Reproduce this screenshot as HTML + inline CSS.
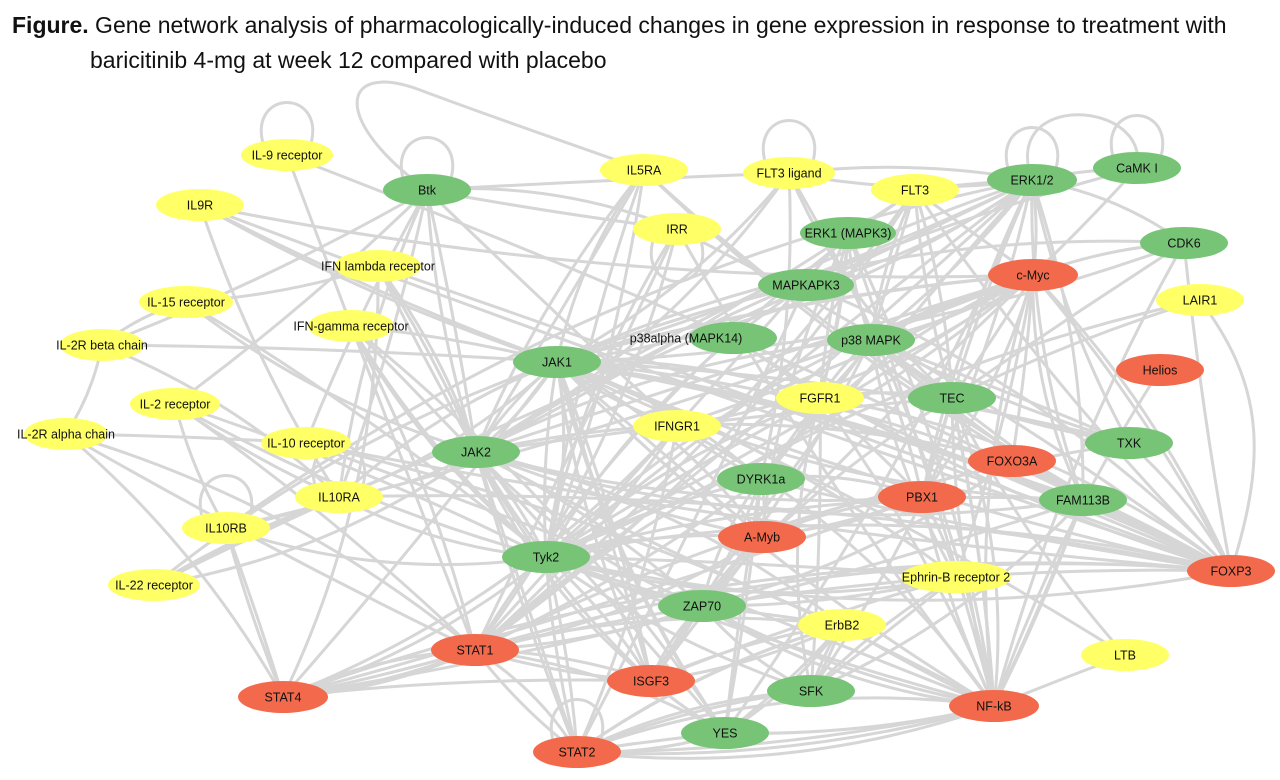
<!DOCTYPE html>
<html><head><meta charset="utf-8"><style>
body{margin:0;background:#fff;width:1280px;height:780px;overflow:hidden;font-family:"Liberation Sans",sans-serif}
.t{position:absolute;left:12px;top:8px;font-size:23px;color:#111;line-height:35px;white-space:nowrap}
svg{position:absolute;left:0;top:0}
</style></head><body>
<div class="t"><b>Figure.</b> Gene network analysis of pharmacologically-induced changes in gene expression in response to treatment with<br><span style="padding-left:78px">baricitinib 4-mg at week 12 compared with placebo</span></div>
<svg id="s" width="1280" height="780"><g id="e" stroke="#d6d6d6" stroke-width="3" fill="none"></g><g id="n"></g></svg>
<script>
var Y="#ffff66",G="#77c477",R="#f26a4b";
var N={
"IL-9 receptor":[287,155,Y,92],"IL9R":[200,205,Y,88],"Btk":[427,190,G,88],"IL5RA":[644,170,Y,88],
"FLT3 ligand":[789,173,Y,92],"FLT3":[915,190,Y,88],"ERK1/2":[1032,180,G,90],"CaMK I":[1137,168,G,88],
"IRR":[677,229,Y,88],"ERK1 (MAPK3)":[848,233,G,96],"CDK6":[1184,243,G,88],"IFN lambda receptor":[378,266,Y,86],
"c-Myc":[1033,275,R,90],"MAPKAPK3":[806,285,G,96],"IL-15 receptor":[186,302,Y,94],"LAIR1":[1200,300,Y,88],
"IFN-gamma receptor":[351,326,Y,86],"p38alpha (MAPK14)":[733,338,G,88],"p38 MAPK":[871,340,G,88],
"IL-2R beta chain":[102,345,Y,84],"JAK1":[557,362,G,88],"Helios":[1160,370,R,88],"IL-2 receptor":[175,404,Y,90],
"FGFR1":[820,398,Y,88],"TEC":[952,398,G,88],"IL-2R alpha chain":[66,434,Y,84],"IL-10 receptor":[306,443,Y,90],
"IFNGR1":[677,426,Y,88],"JAK2":[476,452,G,88],"TXK":[1129,443,G,88],"FOXO3A":[1012,461,R,88],"DYRK1a":[761,479,G,88],
"IL10RA":[339,497,Y,88],"PBX1":[922,497,R,88],"FAM113B":[1083,500,G,88],"IL10RB":[226,528,Y,88],"A-Myb":[762,537,R,88],
"Tyk2":[546,557,G,88],"FOXP3":[1231,571,R,88],"IL-22 receptor":[154,585,Y,92],"Ephrin-B receptor 2":[956,577,Y,110],
"ZAP70":[702,606,G,88],"ErbB2":[842,625,Y,88],"STAT1":[475,650,R,88],"LTB":[1125,655,Y,88],"ISGF3":[651,681,R,88],
"SFK":[811,691,G,88],"STAT4":[283,697,R,90],"NF-kB":[994,706,R,90],"YES":[725,733,G,88],"STAT2":[577,752,R,88]};
var hubs={"JAK1":28,"JAK2":24,"Tyk2":22,"STAT1":22,"FOXP3":24,"NF-kB":20,"c-Myc":22,"ERK1/2":20,"STAT4":10,"STAT2":10,"ZAP70":12,"A-Myb":10,"ISGF3":8,"TEC":10,"p38 MAPK":10,"FGFR1":10,"Btk":10,"YES":8,"SFK":8,"PBX1":8,"IL10RA":8,"DYRK1a":8};
var names=Object.keys(N),seed=7;function rnd(){seed=(seed*16807)%2147483647;return seed/2147483647}
var e=document.getElementById("e"),h="";
function ed(a,b){var A=N[a],B=N[b];var mx=(A[0]+B[0])/2,my=(A[1]+B[1])/2;var dx=B[0]-A[0],dy=B[1]-A[1];var k=(rnd()-0.5)*0.25;
h+='<path d="M'+A[0]+' '+A[1]+' Q'+(mx-dy*k)+' '+(my+dx*k)+' '+B[0]+' '+B[1]+'"/>';}
for(var hb in hubs){var c=hubs[hb];var others=names.filter(function(x){return x!=hb}).sort(function(a,b){var A=N[a],B=N[b],H=N[hb];return (Math.hypot(A[0]-H[0],A[1]-H[1])*(0.5+rnd()))-(Math.hypot(B[0]-H[0],B[1]-H[1])*(0.5+rnd()))});
for(var i=0;i<c;i++)ed(hb,others[Math.floor(rnd()*Math.min(others.length,c*2))]);}
[["IL-2R beta chain","IL-2R alpha chain"],["IL-2R beta chain","IL-15 receptor"],["IL-2R beta chain","JAK1"],["IL-2R alpha chain","IL-10 receptor"],["IL-2R alpha chain","STAT4"],["IL-2 receptor","IL10RA"],["IL-15 receptor","IFN lambda receptor"],["IL9R","JAK1"],["IL-9 receptor","STAT1"],["IL-22 receptor","JAK1"],["IL10RB","IL-2 receptor"]].forEach(function(p){ed(p[0],p[1])});
[["IL-9 receptor",-1],["Btk",-1],["FLT3 ligand",-1],["ERK1/2",-1],["CaMK I",-1],["IRR",1],["IL10RB",-1],["STAT2",-1],["IL10RA",-1]].forEach(function(l){var A=N[l[0]];var s=l[1]*70;h+='<path d="M'+(A[0]-20)+' '+A[1]+' C'+(A[0]-50)+' '+(A[1]+s)+' '+(A[0]+50)+' '+(A[1]+s)+' '+(A[0]+20)+' '+A[1]+'"/>';});
h+='<path d="M1032 180 C1000 90 1150 100 1137 168"/><path d="M427 190 C330 120 340 60 420 90 S560 140 644 170"/><path d="M1200 300 C1260 380 1270 450 1231 571"/>';
e.innerHTML=h;
var g="";for(var k in N){var A=N[k];g+='<ellipse cx="'+A[0]+'" cy="'+A[1]+'" rx="'+A[3]/2+'" ry="16" fill="'+A[2]+'"/>';}
for(var k in N){var A=N[k];var x=k=="p38alpha (MAPK14)"?686:A[0];g+='<text x="'+x+'" y="'+(A[1]+4.5)+'" font-size="12.5" text-anchor="middle" fill="#111" font-family="Liberation Sans, sans-serif">'+k+'</text>';}
document.getElementById("n").innerHTML=g;
</script>
</body></html>
